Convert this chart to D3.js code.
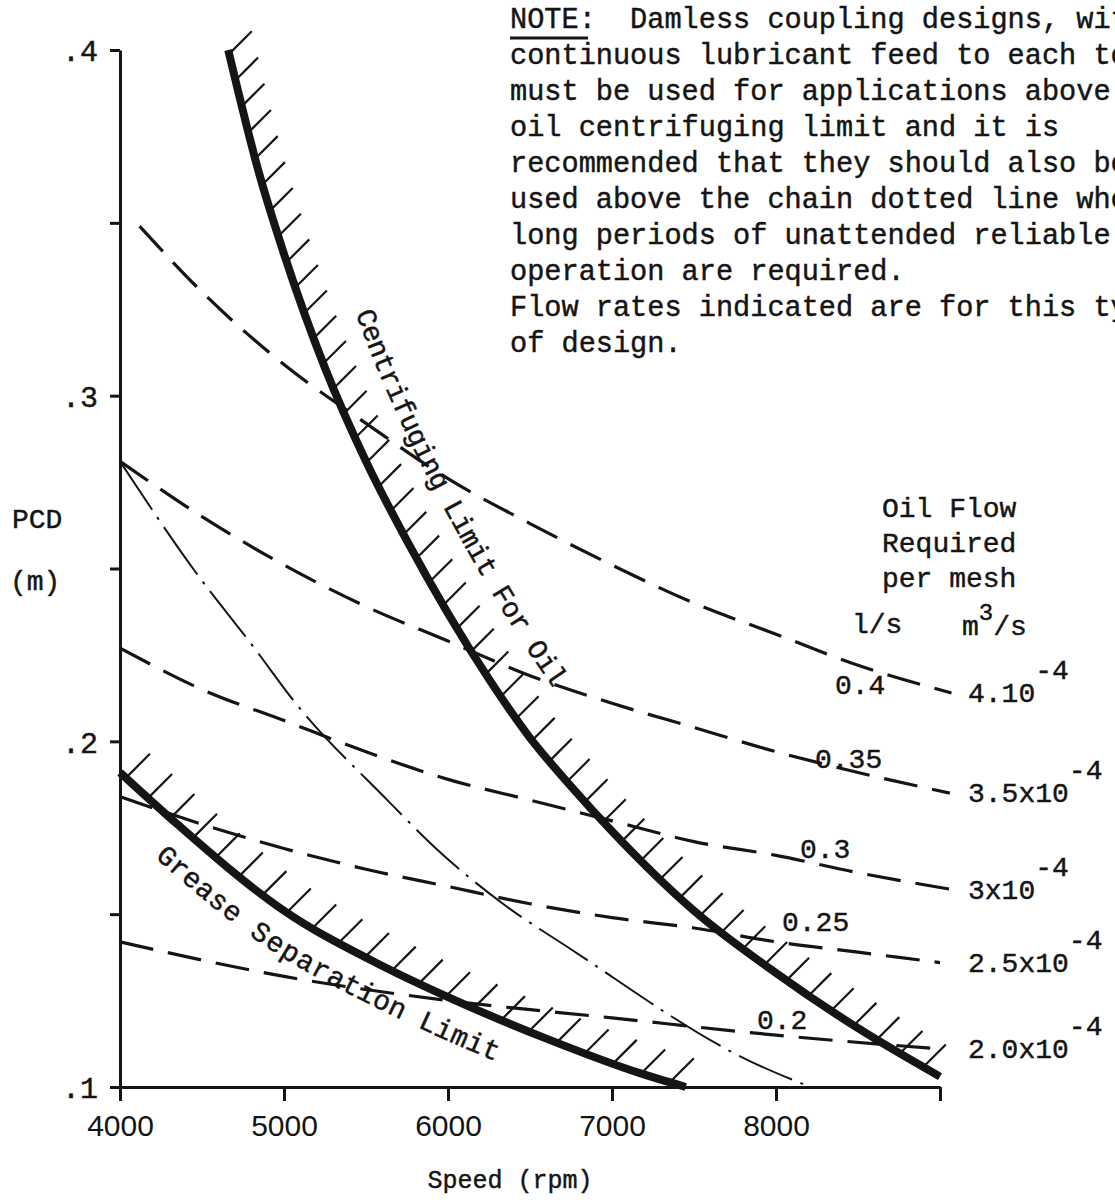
<!DOCTYPE html>
<html>
<head>
<meta charset="utf-8">
<script src="https://cdn.jsdelivr.net/npm/d3@7"></script>
<style>
  html, body { margin: 0; padding: 0; background: #fff; }
  svg { display: block; overflow: hidden; }
  text { fill: #151515; }
  .mono { font-family: 'Liberation Mono', 'DejaVu Sans Mono', monospace; white-space: pre; stroke: #151515; stroke-width: 0.45px; }
  .sans { font-family: 'Liberation Sans', Arial, sans-serif; }
</style>
</head>
<body>
<svg id="chart" width="1115" height="1200"></svg>
<script>
// axis ticks
const speedTicks = [4000, 5000, 6000, 7000, 8000, 9000]
const speedTickLabels = ['4000', '5000', '6000', '7000', '8000', '']
const pcdTicks = [0.1, 0.15, 0.2, 0.25, 0.3, 0.35, 0.4]
const pcdTickLabels = ['.1', '', '.2', '', '.3', '', '.4']

// limit curves, [rpm, PCD m]
const centrifugingLimit = [
  [4660, 0.400], [4850, 0.364], [5000, 0.341], [5250, 0.308], [5500, 0.281],
  [5750, 0.258], [6000, 0.237], [6250, 0.218], [6500, 0.201], [6750, 0.187],
  [7000, 0.174], [7500, 0.151], [8000, 0.133], [8500, 0.117], [9000, 0.103]
]
const greaseLimit = [
  [4000, 0.191], [4350, 0.176], [5000, 0.151], [5600, 0.135], [6000, 0.126],
  [6600, 0.114], [7170, 0.104], [7450, 0.100]
]
const chainDotted = [
  [4000, 0.281], [4445, 0.250], [4835, 0.226], [5055, 0.212], [5630, 0.183],
  [5950, 0.168], [6335, 0.153], [6745, 0.140], [7840, 0.1075], [8210, 0.100]
]

// oil flow lines
const flow040 = [
  [4120, 0.349], [4500, 0.330], [5000, 0.309], [5500, 0.292], [6000, 0.276],
  [6500, 0.263], [7000, 0.251], [7500, 0.240], [8000, 0.231], [8500, 0.222], [9070, 0.214]
]
const flow035 = [
  [4000, 0.281], [4500, 0.265], [5000, 0.251], [5500, 0.239], [6000, 0.229],
  [6500, 0.219], [7000, 0.211], [7500, 0.204], [8000, 0.197], [8500, 0.191], [9060, 0.185]
]
const flow030 = [
  [4000, 0.227], [4500, 0.215], [5000, 0.206], [5500, 0.197], [6000, 0.189],
  [6500, 0.183], [7000, 0.177], [7500, 0.171], [8000, 0.167], [8500, 0.162], [9090, 0.157]
]
const flow025 = [
  [4000, 0.184], [4500, 0.176], [5000, 0.169], [5500, 0.163], [6000, 0.158],
  [6500, 0.153], [7000, 0.149], [7500, 0.146], [8000, 0.142], [8500, 0.139], [9000, 0.136]
]
const flow020 = [
  [4000, 0.142], [5000, 0.132], [6000, 0.125], [7000, 0.120], [8000, 0.115], [9000, 0.111]
]
const flowLines = [flow040, flow035, flow030, flow025, flow020]
const flowLitres = ['0.4', '0.35', '0.3', '0.25', '0.2']
const flowCubicBase = ['4.10', '3.5x10', '3x10', '2.5x10', '2.0x10']
const flowCubicExp = ['-4', '-4', '-4', '-4', '-4']

const noteLines = [
  'NOTE:  Damless coupling designs, with',
  'continuous lubricant feed to each tooth',
  'must be used for applications above the',
  'oil centrifuging limit and it is',
  'recommended that they should also be',
  'used above the chain dotted line where',
  'long periods of unattended reliable',
  'operation are required.',
  'Flow rates indicated are for this type',
  'of design.'
]
const flowHeading = ['Oil Flow', 'Required', 'per mesh']

const ink = '#151515'
const svg = d3.select('#chart')

const x = d3.scaleLinear().domain([4000, 9000]).range([120, 940])
const y = d3.scaleLinear().domain([0.1, 0.4]).range([1087, 50])

const line = d3.line()
  .x((d) => x(d[0]))
  .y((d) => y(d[1]))
  .curve(d3.curveMonotoneX)

// axes
const xAxis = d3.axisBottom(x)
  .tickValues(speedTicks)
  .tickSize(14)
  .tickSizeOuter(0)
  .tickFormat((d, i) => speedTickLabels[i])
const gx = svg.append('g').attr('transform', `translate(0,${y(0.1)})`).call(xAxis)
gx.selectAll('path, line').attr('stroke', ink).attr('stroke-width', 3)
gx.selectAll('text')
  .attr('class', 'sans')
  .attr('font-size', 30)
  .attr('fill', ink)
  .attr('y', 28)
  .attr('dy', '0.71em')

const yAxis = d3.axisLeft(y)
  .tickValues(pcdTicks)
  .tickSize(10)
  .tickSizeOuter(0)
  .tickFormat((d, i) => pcdTickLabels[i])
const gy = svg.append('g').attr('transform', `translate(${x(4000)},0)`).call(yAxis)
gy.selectAll('path, line').attr('stroke', ink).attr('stroke-width', 3)
gy.selectAll('text')
  .attr('class', 'mono')
  .attr('font-size', 30)
  .attr('fill', ink)
  .attr('x', -22)
  .attr('dy', '0.36em')

svg.append('text').attr('class', 'mono').attr('font-size', 28)
  .attr('x', 12).attr('y', 528).text('PCD')
svg.append('text').attr('class', 'mono').attr('font-size', 28)
  .attr('x', 10).attr('y', 590).text('(m)')
svg.append('text').attr('class', 'mono').attr('font-size', 25)
  .attr('x', 510).attr('y', 1188).attr('text-anchor', 'middle').text('Speed (rpm)')

// oil flow dashed lines
svg.append('g').selectAll('path')
  .data(flowLines)
  .join('path')
  .attr('d', line)
  .attr('fill', 'none')
  .attr('stroke', ink)
  .attr('stroke-width', 3.2)
  .attr('stroke-dasharray', '34,15')

// chain dotted line
svg.append('path')
  .attr('d', line(chainDotted))
  .attr('fill', 'none')
  .attr('stroke', ink)
  .attr('stroke-width', 2)
  .attr('stroke-dasharray', '58,9,3,9')

// thick limit curves with hatching
function drawLimit(data, spacing, len, first) {
  const path = svg.append('path')
    .attr('d', line(data))
    .attr('fill', 'none')
    .attr('stroke', ink)
    .attr('stroke-width', 8)
  const node = path.node()
  const total = node.getTotalLength()
  const marks = []
  for (let s = first; s < total - 4; s += spacing) marks.push(node.getPointAtLength(s))
  svg.append('g').selectAll('line')
    .data(marks)
    .join('line')
    .attr('x1', (p) => p.x)
    .attr('y1', (p) => p.y)
    .attr('x2', (p) => p.x + len * Math.SQRT1_2)
    .attr('y2', (p) => p.y - len * Math.SQRT1_2)
    .attr('stroke', ink)
    .attr('stroke-width', 2.2)
  return path
}
drawLimit(centrifugingLimit, 27, 32, 4).attr('id', 'centrifuging')
drawLimit(greaseLimit, 30, 34, 8).attr('id', 'grease')

svg.append('text').attr('class', 'mono').attr('font-size', 28)
  .attr('dy', -48)
  .append('textPath')
  .attr('href', '#centrifuging')
  .attr('startOffset', 292)
  .text('Centrifuging Limit For Oil')

svg.append('text').attr('class', 'mono').attr('font-size', 28)
  .attr('dy', 40)
  .append('textPath')
  .attr('href', '#grease')
  .attr('startOffset', 82)
  .text('Grease Separation Limit')

// flow labels
const inlineX = [835, 815, 800, 782, 757]
const inlineDy = [37, 6, -2, -12, -4]
const lineAt = (data, px) => {
  const r = x.invert(px)
  const i = d3.bisector((d) => d[0]).left(data, r)
  const a = data[Math.max(0, i - 1)]
  const b = data[Math.min(data.length - 1, i)]
  const t = b[0] === a[0] ? 0 : (r - a[0]) / (b[0] - a[0])
  return y(a[1] + t * (b[1] - a[1]))
}
flowLines.forEach((data, i) => {
  svg.append('text').attr('class', 'mono').attr('font-size', 28)
    .attr('x', inlineX[i])
    .attr('y', lineAt(data, inlineX[i]) + inlineDy[i])
    .text(flowLitres[i])
  const end = data[data.length - 1]
  const t = svg.append('text').attr('class', 'mono').attr('font-size', 28)
    .attr('x', 968)
    .attr('y', y(end[1]) + 9)
  t.append('tspan').text(flowCubicBase[i])
  t.append('tspan').attr('dy', -23).text(flowCubicExp[i])
})

// heading of the flow block
flowHeading.forEach((s, i) => {
  svg.append('text').attr('class', 'mono').attr('font-size', 28)
    .attr('x', 882).attr('y', 517 + i * 35).text(s)
})
svg.append('text').attr('class', 'mono').attr('font-size', 28)
  .attr('x', 852).attr('y', 633).text('l/s')
const m3 = svg.append('text').attr('class', 'mono').attr('font-size', 28)
  .attr('x', 962).attr('y', 635)
m3.append('tspan').text('m')
m3.append('tspan').attr('dy', -15).attr('font-size', 24).text('3')
m3.append('tspan').attr('dy', 15).text('/s')

// note
noteLines.forEach((s, i) => {
  svg.append('text').attr('class', 'mono').attr('font-size', 28.6)
    .attr('x', 510).attr('y', 28 + i * 36).text(s)
})
svg.append('line')
  .attr('x1', 510).attr('x2', 588).attr('y1', 38).attr('y2', 38)
  .attr('stroke', ink).attr('stroke-width', 3)
</script>
</body>
</html>
